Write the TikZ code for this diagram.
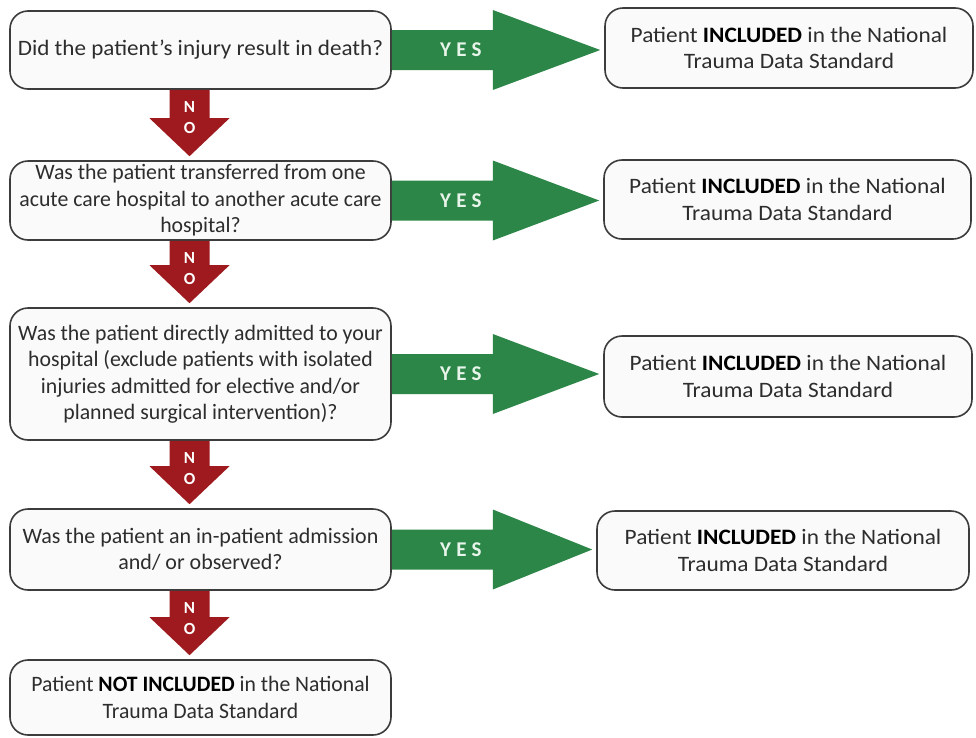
\documentclass[tikz,border=0pt]{standalone}
\usepackage{fontspec}
\setmainfont{Carlito}
\usetikzlibrary{calc}
\definecolor{yesgreen}{RGB}{44,134,72}
\definecolor{nored}{RGB}{158,26,30}
\definecolor{boxline}{RGB}{60,60,60}
\definecolor{boxfill}{RGB}{250,250,250}
\definecolor{txt}{RGB}{45,45,45}
\definecolor{yestext}{RGB}{232,245,234}
\tikzset{
  qbox/.style={draw=boxline, line width=1.6pt, fill=boxfill, rounded corners=18pt,
    inner sep=0pt, align=center, text=txt,
    font=\fontsize{22}{26.5}\selectfont},
  st/.style={font=\fontsize{22}{26.5}\selectfont\addfontfeature{FakeStretch=#1}},
  yeslabel/.style={text=yestext, inner sep=0pt,
    font=\fontsize{21}{21}\selectfont\bfseries\addfontfeature{LetterSpace=25}},
  nolabel/.style={text=white, inner sep=0pt, align=center,
    font=\fontsize{17}{21}\selectfont\bfseries},
}
% green YES arrow from left box #1 to right box #2, label node name #3
\newcommand{\yesarrow}[3]{%
  \coordinate (#3s) at (#1.east);
  \coordinate (#3t) at ($(#2.west |- #1.east)+(-4,0)$);
  \fill[yesgreen] ($(#3s)+(0,-20)$) -- ($(#3s)+(101,-20)$) -- ($(#3s)+(101,-40)$)
    -- (#3t) -- ($(#3s)+(101,40)$) -- ($(#3s)+(101,20)$) -- ($(#3s)+(0,20)$) -- cycle;
  \node[yeslabel] (#3) at ($(#3s)+(69,0)$) {YES};
}
% red NO arrow from box #1 down to box #2, label node name #3
\newcommand{\noarrow}[3]{%
  \coordinate (#3s) at ($(#1.south)+(-11,0)$);
  \coordinate (#3t) at ($(#2.north)+(-11,-4)$);
  \fill[nored] ($(#3s)+(-20,0)$) -- ($(#3s)+(20,0)$) -- ($(#3t)+(20,-38)$)
    -- ($(#3t)+(40,-38)$) -- (#3t) -- ($(#3t)+(-40,-38)$) -- ($(#3t)+(-20,-38)$) -- cycle;
  \node[nolabel] (#3) at ($(#3s)+(0,28)$) {N\\O};
}
\newcommand{\incl}{Patient \textbf{\color{black}INCLUDED} in the National\\Trauma Data Standard}
\begin{document}
\begin{tikzpicture}[x=1pt, y=-1pt]
\useasboundingbox (0,0) rectangle (976,737);
\fill[white] (0,0) rectangle (976,737);

% left column
\node[qbox, st=1.05, minimum width=381pt, minimum height=78pt] (q1) at (200.5,50)
  {Did the patient’s injury result in death?};
\node[qbox, st=0.99, minimum width=381pt, minimum height=79pt] (q2) at (200.5,200.5)
  {Was the patient transferred from one\\acute care hospital to another acute care\\hospital?};
\node[qbox, st=0.99, minimum width=381pt, minimum height=132pt] (q3) at (200.5,374)
  {Was the patient directly admitted to your\\hospital (exclude patients with isolated\\injuries admitted for elective and/or\\planned surgical intervention)?};
\node[qbox, st=1.0, minimum width=381pt, minimum height=81pt] (q4) at (200.5,549.5)
  {Was the patient an in-patient admission\\and/ or observed?};
\node[qbox, st=0.985, minimum width=381pt, minimum height=75pt] (q5) at (200.5,697.5)
  {Patient \textbf{\color{black}NOT INCLUDED} in the National\\Trauma Data Standard};

% right column
\node[qbox, st=1.06, minimum width=368pt, minimum height=80pt] (r1) at (789,48) {\incl};
\node[qbox, st=1.06, minimum width=367pt, minimum height=79pt] (r2) at (787.5,199.5) {\incl};
\node[qbox, st=1.06, minimum width=368pt, minimum height=81pt] (r3) at (788,376.5) {\incl};
\node[qbox, st=1.06, minimum width=372pt, minimum height=79pt] (r4) at (783,550.5) {\incl};

% YES arrows
\yesarrow{q1}{r1}{y1}
\yesarrow{q2}{r2}{y2}
\yesarrow{q3}{r3}{y3}
\yesarrow{q4}{r4}{y4}

% NO arrows
\noarrow{q1}{q2}{n1}
\noarrow{q2}{q3}{n2}
\noarrow{q3}{q4}{n3}
\noarrow{q4}{q5}{n4}
\end{tikzpicture}
\end{document}
